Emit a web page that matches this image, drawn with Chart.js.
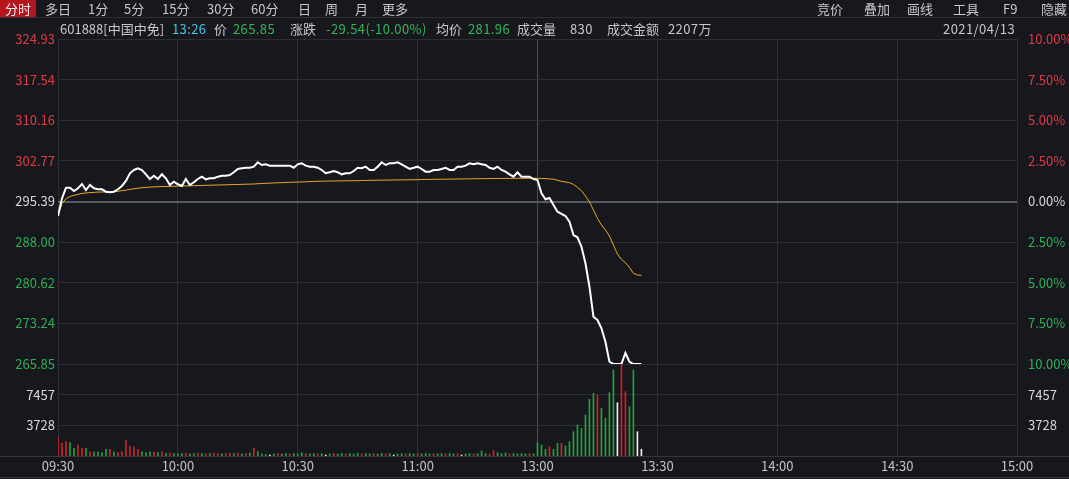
<!DOCTYPE html>
<html>
<head>
<meta charset="utf-8">
<script src="https://cdn.jsdelivr.net/npm/chart.js@4.4.0/dist/chart.umd.min.js"></script>
<style>
  html, body { margin: 0; padding: 0; background: #16181d; }
  body { width: 1069px; height: 479px; position: relative; overflow: hidden;
         font-family: "Noto Sans CJK SC", sans-serif; font-size: 13px; color: #c8c8c8; }
  #chart { position: absolute; left: 0; top: 0; z-index: 1; }
  .row { position: absolute; left: 0; width: 1069px; height: 17px; z-index: 2; }
  #toolbar { top: 0; border-bottom: 1px solid #2e3036; }
  #info { top: 20px; }
  .t { position: absolute; top: 0; white-space: nowrap; line-height: 17px; }
  .n { letter-spacing: 0.4px; }
  .on { left: 0; width: 36px; text-align: center; background: #b5151d; color: #f2f2f2; }
  .dn { color: #35b557; }
  .cy { color: #46c6e6; }
  .sep { position: absolute; left: 0; width: 1069px; height: 1px; background: #34373d; z-index: 0; }
</style>
</head>
<body>
<div id="toolbar" class="row">
  <span class="t on">分时</span>
  <span class="t" style="left:45px">多日</span>
  <span class="t" style="left:88px">1分</span>
  <span class="t" style="left:124px">5分</span>
  <span class="t" style="left:162px">15分</span>
  <span class="t" style="left:207px">30分</span>
  <span class="t" style="left:251px">60分</span>
  <span class="t" style="left:298px">日</span>
  <span class="t" style="left:325px">周</span>
  <span class="t" style="left:355px">月</span>
  <span class="t" style="left:382px">更多</span>
  <span class="t" style="left:817px">竞价</span>
  <span class="t" style="left:864px">叠加</span>
  <span class="t" style="left:907px">画线</span>
  <span class="t" style="left:953px">工具</span>
  <span class="t" style="left:1003px">F9</span>
  <span class="t" style="left:1041px">隐藏</span>
</div>
<div id="info" class="row">
  <span class="t" style="left:60px">601888[中国中免]</span>
  <span class="t n cy" style="left:172px">13:26</span>
  <span class="t" style="left:214px">价</span>
  <span class="t n dn" style="left:233px" id="lastPrice"></span>
  <span class="t" style="left:290px">涨跌</span>
  <span class="t n dn" style="left:326px">-29.54(-10.00%)</span>
  <span class="t" style="left:436px">均价</span>
  <span class="t n dn" style="left:468px" id="lastAvg"></span>
  <span class="t" style="left:517px">成交量</span>
  <span class="t n" style="left:570px" id="lastVol"></span>
  <span class="t" style="left:607px">成交金额</span>
  <span class="t n" style="left:668px">2207万</span>
  <span class="t n" style="right:54px">2021/04/13</span>
</div>
<div class="sep" style="top:456px"></div>
<div class="sep" style="top:477px"></div>
<canvas id="chart" width="1069" height="479"></canvas>
<script>
// 分时数据 (09:30 起每分钟一个点, 11:30/13:00 合并)
const prevClose = 295.39;

const timeLabels = ['09:30', '10:00', '10:30', '11:00', '13:00', '13:30', '14:00', '14:30', '15:00'];
const timeTickIdx = [0, 30, 60, 90, 120, 150, 180, 210, 240];

const priceTicks = [265.85, 273.24, 280.62, 288.00, 295.39, 302.77, 310.16, 317.54, 324.93];
const pctTicks = [-10, -7.5, -5, -2.5, 0, 2.5, 5, 7.5, 10];
const volTicks = [3728, 7457];
const volMax = 11185.5;

const priceData = [
  292.75, 295.97, 297.90, 297.90, 297.30, 297.79, 298.57, 297.48, 298.39, 297.79,
  297.61, 297.61, 297.17, 297.06, 297.17, 297.61, 298.21, 299.12, 300.52, 301.12,
  301.43, 301.12, 300.33, 299.48, 300.08, 299.48, 300.33, 299.61, 298.39, 298.99,
  298.52, 298.21, 299.48, 298.39, 298.88, 299.48, 299.90, 299.42, 299.61, 299.61,
  299.90, 300.08, 300.08, 300.21, 300.70, 301.30, 301.43, 301.53, 301.53, 301.72,
  302.52, 302.03, 302.15, 301.90, 301.90, 301.90, 301.90, 301.90, 301.90, 301.53,
  302.15, 302.33, 301.90, 301.72, 301.72, 301.53, 301.12, 300.52, 300.70, 300.93,
  300.70, 300.33, 300.52, 300.52, 300.93, 301.53, 301.43, 301.72, 301.12, 301.12,
  301.72, 302.52, 302.03, 302.33, 302.33, 302.52, 302.15, 301.72, 301.30, 301.53,
  301.72, 301.30, 300.81, 300.81, 301.12, 301.12, 301.30, 301.53, 301.12, 301.12,
  301.72, 301.72, 301.90, 302.33, 302.15, 302.33, 302.15, 302.03, 301.53, 301.30,
  301.72, 301.12, 300.81, 300.33, 299.90, 300.70, 299.90, 299.90, 299.90, 299.48,
  299.30, 296.88, 295.79, 296.03, 294.75, 293.54, 293.12, 292.75, 291.72, 289.30,
  288.88, 287.17, 284.16, 279.90, 274.45, 273.85, 272.34, 269.90, 266.27, 265.85,
  265.85, 265.85, 267.85, 266.27, 265.85, 265.85, 265.85
];

const avgData = [
  292.90, 295.00, 295.90, 296.30, 296.50, 296.70, 296.85, 296.95, 297.00, 297.05,
  297.10, 297.10, 297.15, 297.15, 297.20, 297.25, 297.35, 297.45, 297.60, 297.70,
  297.80, 297.90, 297.95, 298.00, 298.05, 298.08, 298.10, 298.12, 298.14, 298.16,
  298.20, 298.21, 298.23, 298.25, 298.27, 298.29, 298.31, 298.33, 298.35, 298.37,
  298.39, 298.41, 298.43, 298.45, 298.47, 298.49, 298.51, 298.53, 298.55, 298.57,
  298.62, 298.66, 298.70, 298.73, 298.76, 298.79, 298.82, 298.85, 298.88, 298.90,
  298.92, 298.95, 298.98, 299.01, 299.04, 299.06, 299.08, 299.10, 299.11, 299.12,
  299.13, 299.14, 299.15, 299.16, 299.17, 299.18, 299.20, 299.22, 299.24, 299.25,
  299.26, 299.27, 299.28, 299.29, 299.30, 299.31, 299.32, 299.33, 299.34, 299.35,
  299.36, 299.38, 299.40, 299.41, 299.42, 299.43, 299.44, 299.45, 299.46, 299.47,
  299.48, 299.49, 299.50, 299.51, 299.52, 299.53, 299.54, 299.55, 299.56, 299.57,
  299.58, 299.58, 299.59, 299.59, 299.60, 299.60, 299.60, 299.60, 299.60, 299.60,
  299.60, 299.58, 299.55, 299.50, 299.45, 299.25, 299.05, 298.94, 298.81, 298.50,
  297.97, 297.35, 296.39, 295.35, 293.84, 292.34, 291.12, 290.21, 289.12, 287.48,
  285.85, 284.88, 284.27, 283.43, 282.34, 282.03, 281.96
];

const volData = [
  2350, 1545, 1740, 1620, 935, 1340, 935, 935, 520, 520,
  520, 420, 815, 815, 520, 420, 520, 1945, 1216, 1130,
  815, 520, 420, 520, 520, 420, 520, 300, 360, 300,
  250, 300, 360, 250, 300, 360, 300, 250, 300, 360,
  300, 250, 300, 360, 300, 360, 250, 300, 360, 935,
  520, 250, 200, 120, 250, 300, 250, 300, 250, 300,
  250, 400, 300, 250, 300, 250, 300, 120, 250, 300,
  250, 300, 250, 300, 250, 360, 250, 300, 250, 300,
  250, 300, 250, 300, 120, 250, 300, 250, 300, 250,
  300, 250, 300, 250, 300, 250, 300, 250, 300, 250,
  300, 120, 250, 300, 250, 300, 610, 300, 250, 650,
  400, 300, 360, 250, 300, 250, 300, 250, 300, 250,
  1620, 1340, 810, 1130, 810, 1540, 1540, 1215, 1740, 2955,
  3770, 3365, 4985, 6890, 7620, 7415, 5800, 4580, 7695, 10455,
  6480, 11150, 7815, 5990, 10455, 2955, 830
];

// 1 = 涨 (红), -1 = 跌 (绿), 0 = 平 (白)
const volDir = [
  1, 1, 1, -1, -1, 1, 1, -1, 1, -1,
  -1, -1, -1, 1, -1, 1, 1, 1, 1, 1,
  1, -1, -1, -1, 1, -1, 1, -1, 1, -1,
  -1, -1, 1, -1, -1, 1, -1, 1, -1, 1,
  1, -1, 1, 1, -1, 1, -1, 1, -1, 1,
  -1, -1, -1, 0, -1, 1, -1, -1, 1, -1,
  -1, -1, 1, -1, -1, 1, -1, 0, -1, 1,
  -1, -1, 1, -1, -1, -1, 1, -1, -1, 1,
  -1, -1, 1, -1, 0, -1, -1, 1, -1, -1,
  1, -1, -1, -1, 1, -1, -1, 1, -1, -1,
  1, 0, -1, -1, 1, -1, -1, -1, 1, 1,
  -1, -1, -1, 1, -1, -1, -1, -1, 1, -1,
  -1, -1, -1, 1, -1, -1, 1, -1, -1, -1,
  -1, -1, -1, -1, -1, 1, -1, -1, -1, -1,
  0, 1, 1, -1, -1, 0, 0
];

const RED = '#e03a44', GREEN = '#2fae54', WHITE = '#d8d8d8';
const GRID = '#2b2e34';
const barColor = d => d > 0 ? '#cf222c' : (d < 0 ? '#20a43c' : '#eeeeee');
const labelColor = d => d > 0.001 ? RED : (d < -0.001 ? GREEN : WHITE);

document.getElementById('lastPrice').textContent = priceData[priceData.length - 1].toFixed(2);
document.getElementById('lastAvg').textContent = avgData[avgData.length - 1].toFixed(2);
document.getElementById('lastVol').textContent = volData[volData.length - 1];

Chart.defaults.font.family = '"Noto Sans CJK SC", sans-serif';
Chart.defaults.font.size = 13;

new Chart(document.getElementById('chart'), {
    type: 'line',
    data: {
        datasets: [{
            label: '价格',
            data: priceData.map((v, i) => ({ x: i, y: v })),
            yAxisID: 'price',
            borderColor: '#ffffff',
            borderWidth: 2,
            pointRadius: 0,
            tension: 0,
            order: 0
        }, {
            label: '均价',
            data: avgData.map((v, i) => ({ x: i, y: v })),
            yAxisID: 'price',
            borderColor: '#e9a92c',
            borderWidth: 1,
            pointRadius: 0,
            tension: 0,
            order: 1
        }, {
            type: 'bar',
            label: '成交量',
            data: volData.map((v, i) => ({ x: i, y: v })),
            yAxisID: 'vol',
            backgroundColor: volDir.map(barColor),
            borderWidth: 0,
            barThickness: 1,
            order: 2
        }]
    },
    options: {
        responsive: false,
        animation: false,
        layout: { padding: { top: 39 } },
        plugins: { legend: { display: false }, tooltip: { enabled: false } },
        scales: {
            x: {
                type: 'linear', min: 0, max: 240, offset: false,
                afterBuildTicks: s => { s.ticks = timeTickIdx.map(v => ({ value: v })); },
                afterFit: s => { s.height = 23; },
                ticks: { autoSkip: false, maxRotation: 0, padding: 2, color: '#c4c4c4',
                         callback: (v, i) => timeLabels[i] },
                grid: { drawTicks: false, offset: false,
                        color: ctx => ctx.tick && ctx.tick.value === 120 ? '#4a4d54' : GRID },
                border: { display: true, color: '#34373d' }
            },
            price: {
                type: 'linear', position: 'left', stack: 'L', stackWeight: 325, weight: 2,
                min: priceTicks[0], max: priceTicks[priceTicks.length - 1],
                afterBuildTicks: s => { s.ticks = priceTicks.map(v => ({ value: v })); },
                afterFit: s => { s.width = 58; },
                ticks: { autoSkip: false, padding: 3,
                         color: ctx => labelColor(ctx.tick.value - prevClose),
                         callback: v => v.toFixed(2) },
                grid: { drawTicks: false,
                        color: ctx => ctx.tick && ctx.tick.value === prevClose ? '#585b61' : GRID,
                        lineWidth: ctx => ctx.tick && ctx.tick.value === prevClose ? 2 : 1 },
                border: { display: false }
            },
            vol: {
                type: 'linear', position: 'left', stack: 'L', stackWeight: 92, weight: 1,
                min: 0, max: volMax,
                afterBuildTicks: s => { s.ticks = volTicks.map(v => ({ value: v })); },
                afterFit: s => { s.width = 58; },
                ticks: { autoSkip: false, padding: 3, color: WHITE, callback: v => String(v) },
                grid: { drawTicks: false, color: GRID },
                border: { display: false }
            },
            pct: {
                type: 'linear', position: 'right', stack: 'R', stackWeight: 325, weight: 1,
                min: pctTicks[0], max: pctTicks[pctTicks.length - 1],
                afterBuildTicks: s => { s.ticks = pctTicks.map(v => ({ value: v })); },
                afterFit: s => { s.width = 52; },
                ticks: { autoSkip: false, padding: 3,
                         color: ctx => labelColor(ctx.tick.value),
                         callback: v => Math.abs(v).toFixed(2) + '%' },
                grid: { display: false },
                border: { display: false }
            },
            volR: {
                type: 'linear', position: 'right', stack: 'R', stackWeight: 92, weight: 2,
                min: 0, max: volMax,
                afterBuildTicks: s => { s.ticks = volTicks.map(v => ({ value: v })); },
                afterFit: s => { s.width = 52; },
                ticks: { autoSkip: false, padding: 3, color: WHITE, callback: v => String(v) },
                grid: { display: false },
                border: { display: false }
            }
        }
    }
});
</script>
</body>
</html>
